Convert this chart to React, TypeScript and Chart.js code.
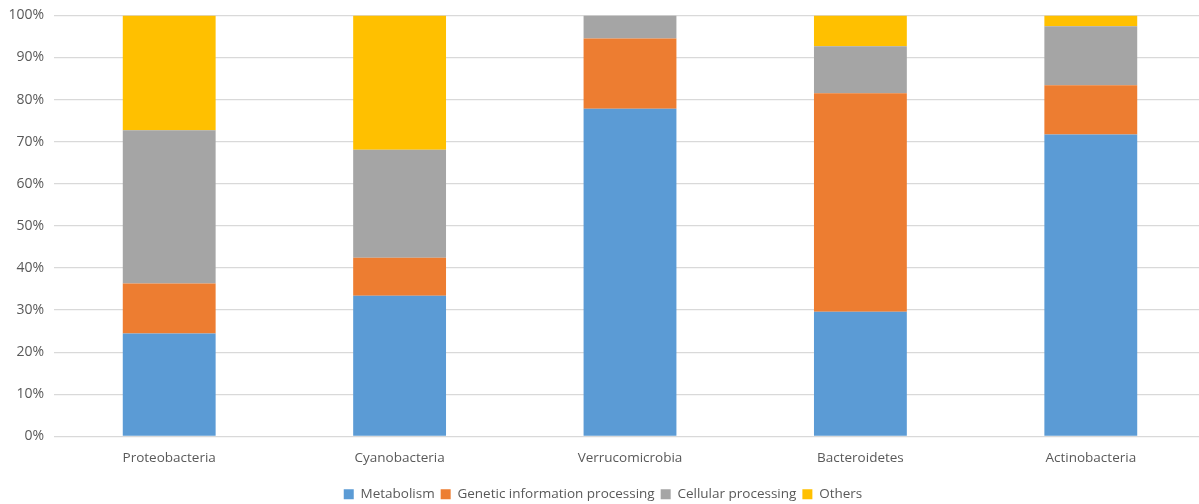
import React, { useEffect, useRef } from "react";
import { Chart, registerables } from "chart.js";

Chart.register(...registerables);

const categories = ["Proteobacteria", "Cyanobacteria", "Verrucomicrobia", "Bacteroidetes", "Actinobacteria"];
const metabolism = [24.4, 33.4, 77.8, 29.6, 71.7];
const geneticInfo = [11.9, 9.0, 16.7, 51.9, 11.7];
const cellular = [36.4, 25.7, 5.5, 11.2, 14.0];
const others = [27.3, 31.9, 0, 7.3, 2.6];
const seriesNames = ["Metabolism", "Genetic information processing", "Cellular processing", "Others"];
const seriesColors = ["#5B9BD5", "#ED7D31", "#A5A5A5", "#FFC000"];

const FONT = "'Open Sans', 'DejaVu Sans', sans-serif";

export default function App() {
  const ref = useRef<HTMLCanvasElement | null>(null);
  useEffect(() => {
    if (!ref.current) return;
    const values = [metabolism, geneticInfo, cellular, others];
    const chart = new Chart(ref.current, {
      type: "bar",
      data: {
        labels: categories,
        datasets: values.map((v, i) => ({
          label: seriesNames[i],
          data: v,
          backgroundColor: seriesColors[i],
          borderWidth: 0,
          barPercentage: 1,
          categoryPercentage: 0.403,
        })),
      },
      options: {
        responsive: false,
        animation: false,
        layout: { padding: { top: 1, right: 0, left: 0, bottom: 2 } },
        plugins: {
          legend: {
            position: "bottom",
            labels: {
              boxWidth: 10,
              boxHeight: 10,
              padding: 6,
              color: "#595959",
              font: { family: FONT, size: 13.5 },
            },
          },
          tooltip: { enabled: false },
        },
        scales: {
          x: {
            stacked: true,
            grid: { display: false },
            border: { display: false },
            afterFit: (s: any) => {
              s.height += 9;
            },
            ticks: { color: "#595959", font: { family: FONT, size: 13.5 }, padding: 6 },
          },
          y: {
            stacked: true,
            min: 0,
            max: 100,
            afterFit: (s: any) => {
              s.width = 54;
            },
            ticks: {
              stepSize: 10,
              color: "#595959",
              font: { family: FONT, size: 14 },
              padding: 10,
              callback: (v: any) => v + "%",
            },
            grid: { color: "#D9D9D9", lineWidth: 1.2, drawTicks: false },
            border: { display: false },
          },
        },
      },
    });
    return () => chart.destroy();
  }, []);
  return (
    <div style={{ position: "fixed", left: 0, top: 0, width: 1199, height: 504, overflow: "hidden", background: "#fff" }}>
      <canvas ref={ref} width={1206} height={516} style={{ display: "block", marginTop: -3 }} />
    </div>
  );
}
